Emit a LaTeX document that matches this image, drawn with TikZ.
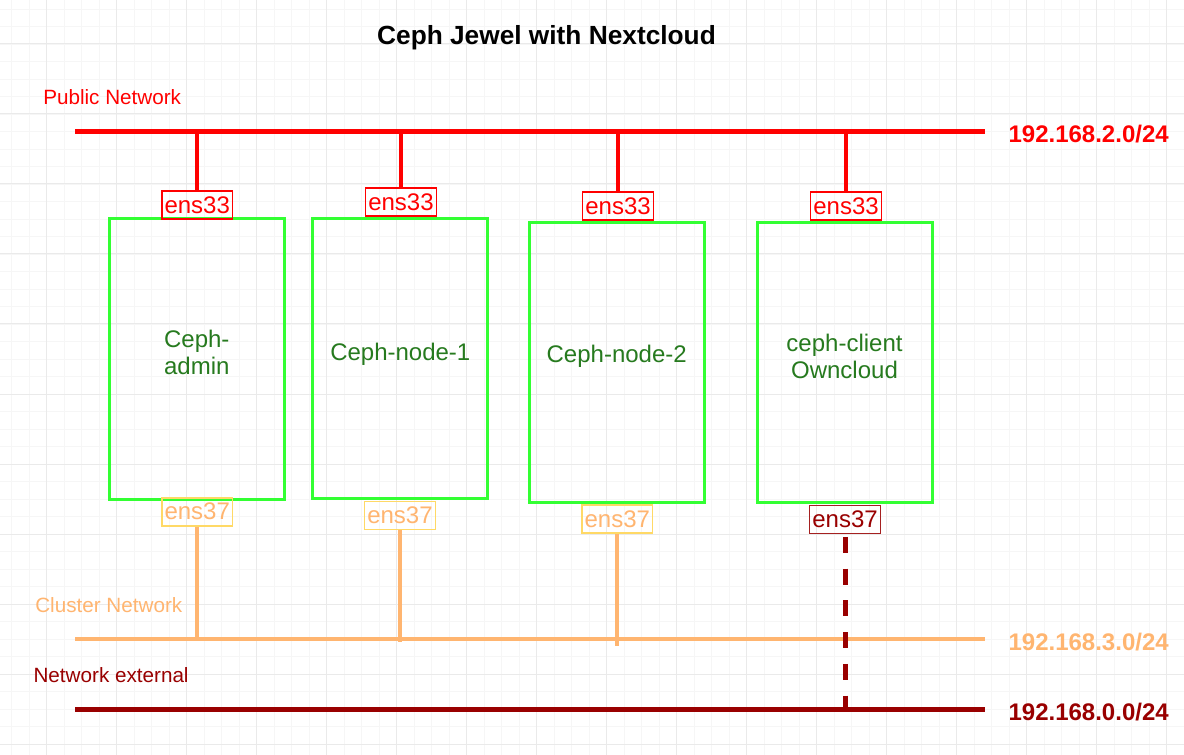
\documentclass[tikz,border=0pt]{standalone}
\usepackage{fontspec}
\setmainfont{Liberation Sans}
\definecolor{pubred}{HTML}{FF0000}
\definecolor{clorange}{HTML}{FFB570}
\definecolor{clyellow}{HTML}{FFD966}
\definecolor{extred}{HTML}{990000}
\definecolor{extborder}{RGB}{165,32,32}
\definecolor{hostgreen}{HTML}{33FF33}
\definecolor{hosttext}{RGB}{38,122,30}
\definecolor{gridminor}{RGB}{246,246,246}
\definecolor{gridmajor}{RGB}{234,234,234}
\begin{document}
\begin{tikzpicture}[x=0.75pt, y=-0.75pt]
    \tikzstyle{every node}=[align = center, inner sep=0pt]
    \tikzstyle{minorline} = [draw=gridminor, line width=0.75pt]
    \tikzstyle{majorline} = [draw=gridmajor, line width=0.75pt]
    \tikzstyle{netlabel} = [anchor=base west, font=\fontsize{15.5pt}{18pt}\selectfont]
    \tikzstyle{iplabel} = [anchor=base west, font=\bfseries\fontsize{18pt}{21pt}\selectfont]
    \tikzstyle{host} = [draw=hostgreen, line width=2.25pt, minimum width=131.25pt, minimum height=210pt]
    \tikzstyle{hostname} = [text=hosttext, font=\fontsize{18pt}{20.6pt}\selectfont]
    \tikzstyle{iface} = [draw, line width=1.2pt, minimum width=53pt, minimum height=21pt, font=\fontsize{18pt}{20.6pt}\selectfont]
    \tikzstyle{pubif} = [iface, draw=pubred, text=pubred]
    \tikzstyle{clif} = [iface, draw=clyellow, text=clorange]
    \tikzstyle{extif} = [iface, draw=extborder, text=extred]
    \tikzstyle{publine} = [draw=pubred, line width=3.75pt]
    \tikzstyle{cline} = [draw=clorange, line width=3pt]
    \tikzstyle{extline} = [draw=extred, line width=3.75pt]

    \fill[white, use as bounding box] (0,0) rectangle (1184,755);
    \foreach \i in {0,...,66} \draw[minorline] ({11.7+17.5*\i},0) -- ++(0,755);
    \foreach \i in {0,...,42} \draw[minorline] (0,{9.3+17.5*\i}) -- ++(1184,0);
    \foreach \i in {0,...,16} \draw[majorline] ({46.7+70*\i},0) -- ++(0,755);
    \foreach \i in {0,...,10} \draw[majorline] (0,{44+70*\i}) -- ++(1184,0);

    \node[anchor=base, font=\bfseries\fontsize{19.7pt}{22pt}\selectfont] (title) at (546.5,45) {Ceph Jewel with Nextcloud};

    \node[netlabel, text=pubred] (pubname) at (43,105) {Public Network};
    \node[netlabel, text=clorange] (clname) at (35,612.7) {Cluster Network};
    \node[netlabel, text=extred] (extname) at (33.3,682.3) {Network external};

    \coordinate (pubL) at (75,131.7);
    \coordinate (pubR) at (985,131.7);
    \coordinate (clL) at (75,639.3);
    \coordinate (clR) at (985,639.3);
    \coordinate (extL) at (75,709.5);
    \coordinate (extR) at (985,709.5);

    \node[host, label={[hostname, yshift=5pt]center:Ceph-\\admin}] (admin) at (196.8,359) {};
    \node[host, label={[hostname, yshift=3.5pt]center:Ceph-node-1}] (node1) at (400.3,358.7) {};
    \node[host, label={[hostname, yshift=4.5pt]center:Ceph-node-2}] (node2) at (616.7,362.5) {};
    \node[host, label={[hostname, yshift=4.5pt]center:ceph-client\\Owncloud}] (client) at (844.5,362.5) {};

    \node[pubif] (admin33) at (197.2,205) {ens33};
    \node[pubif] (node133) at (401,202.2) {ens33};
    \node[pubif] (node233) at (618,205.8) {ens33};
    \node[pubif] (client33) at (846,205.8) {ens33};

    \node[clif] (admin37) at (197.2,511.7) {ens37};
    \node[clif] (node137) at (400,515.5) {ens37};
    \node[clif] (node237) at (617.3,519.2) {ens37};
    \node[extif] (client37) at (845,519.5) {ens37};

    \draw[publine] (pubL) -- (pubR);
    \draw[publine, line width=3.3pt] (admin33.north) -- (admin33.north |- pubL);
    \draw[publine, line width=3.3pt] (node133.north) -- (node133.north |- pubL);
    \draw[publine, line width=3.3pt] (node233.north) -- (node233.north |- pubL);
    \draw[publine, line width=3.3pt] (client33.north) -- (client33.north |- pubL);

    \draw[cline] (clL) -- (clR);
    \draw[cline] (admin37.south) -- (admin37.south |- clL);
    \draw[cline, shorten >=-2.25pt] (node137.south) -- (node137.south |- clL);
    \draw[cline, shorten >=-4.8pt] (node237.south) -- (node237.south |- clL);

    \draw[extline] (extL) -- (extR);
    \draw[extline, dash pattern=on 12pt off 11.8pt, shorten <=2pt] (client37.south) -- (client37.south |- extL);

    \node[iplabel, text=pubred] (pubip) at (1008.3,143) {192.168.2.0/24};
    \node[iplabel, text=clorange] (clip) at (1008.3,650) {192.168.3.0/24};
    \node[iplabel, text=extred] (extip) at (1008.3,720) {192.168.0.0/24};
\end{tikzpicture}
\end{document}
